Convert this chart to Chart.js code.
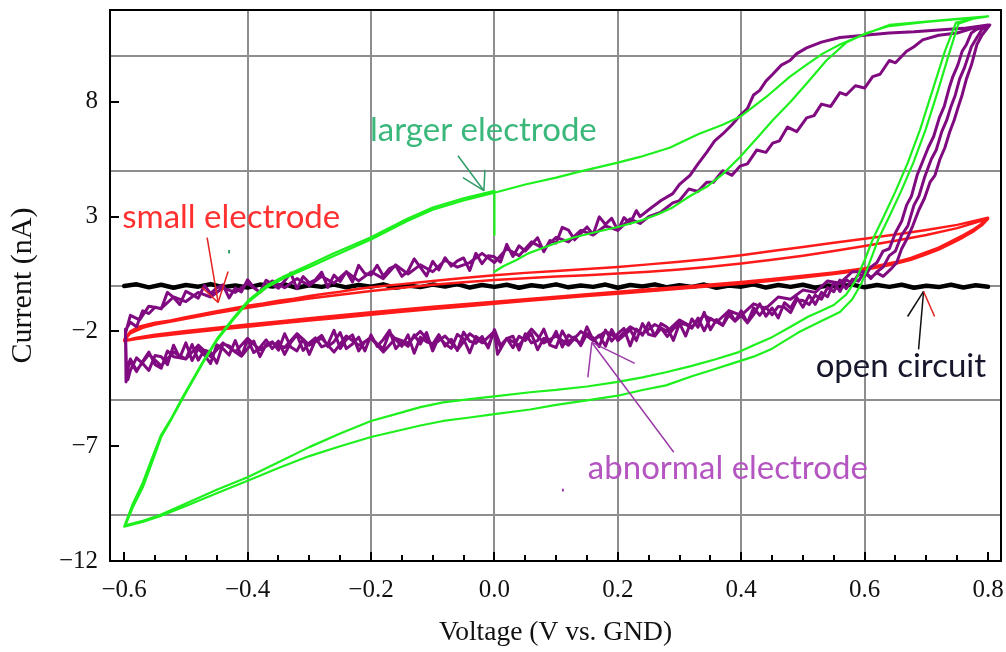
<!DOCTYPE html>
<html><head><meta charset="utf-8">
<style>html,body{margin:0;padding:0;background:#fff;}canvas{display:block;}</style>
<script src="https://cdn.jsdelivr.net/npm/chart.js@4.4.1/dist/chart.umd.min.js"></script>
</head><body>
<canvas id="c" width="1006" height="652"></canvas>
<script>
// ---- axis ticks ----
const xTicks = [-0.6, -0.4, -0.2, 0, 0.2, 0.4, 0.6, 0.8];
const xMinorTicks = [-0.55, -0.5, -0.45, -0.35, -0.3, -0.25, -0.15, -0.1, -0.05, 0.05, 0.1, 0.15, 0.25, 0.3, 0.35, 0.45, 0.5, 0.55, 0.65, 0.7, 0.75];
const yTicks = [8, 3, -2, -7, -12];
const yGridLines = [10, 5, 0, -5, -10];

// ---- series (voltage V, current nA) ----
const openCircuit = [[-0.6,-0.02],[-0.58,0.05],[-0.56,-0.08],[-0.54,0.03],[-0.52,-0.1],[-0.5,0.02],[-0.48,-0.05],[-0.46,0.06],[-0.44,-0.07],[-0.42,0.0],[-0.4,-0.09],[-0.38,0.04],[-0.36,-0.04],[-0.34,0.05],[-0.32,-0.1],[-0.3,0.01],[-0.28,-0.06],[-0.26,0.04],[-0.24,-0.08],[-0.22,0.02],[-0.2,-0.05],[-0.18,0.05],[-0.16,-0.1],[-0.14,0.0],[-0.12,-0.07],[-0.1,0.04],[-0.08,-0.04],[-0.06,0.06],[-0.04,-0.09],[-0.02,0.02],[0,-0.06],[0.02,0.03],[0.04,-0.1],[0.06,0.01],[0.08,-0.05],[0.1,0.05],[0.12,-0.08],[0.14,0.0],[0.16,-0.06],[0.18,0.04],[0.2,-0.1],[0.22,0.02],[0.24,-0.04],[0.26,0.05],[0.28,-0.08],[0.3,0.01],[0.32,-0.06],[0.34,0.04],[0.36,-0.1],[0.38,0.0],[0.4,-0.05],[0.42,0.05],[0.44,-0.09],[0.46,0.02],[0.48,-0.06],[0.5,0.03],[0.52,-0.1],[0.54,0.0],[0.56,-0.05],[0.58,0.04],[0.6,-0.08],[0.62,0.02],[0.64,-0.06],[0.66,0.03],[0.68,-0.1],[0.7,-0.01],[0.72,-0.07],[0.74,0.03],[0.76,-0.09],[0.78,0.01],[0.8,-0.05]];

const smallElectrode = [[-0.6,-2.35],[-0.59,-2.0],[-0.575,-1.78],[-0.55,-1.62],[-0.525,-1.52],[-0.5,-1.38],[-0.475,-1.25],[-0.45,-1.12],[-0.425,-1.0],[-0.4,-0.88],[-0.375,-0.78],[-0.35,-0.66],[-0.325,-0.58],[-0.3,-0.46],[-0.275,-0.36],[-0.25,-0.27],[-0.225,-0.16],[-0.2,-0.08],[-0.15,0.06],[-0.1,0.2],[-0.05,0.33],[0,0.45],[0.05,0.55],[0.1,0.63],[0.15,0.72],[0.2,0.81],[0.25,0.92],[0.3,1.03],[0.35,1.16],[0.4,1.32],[0.45,1.5],[0.5,1.68],[0.55,1.86],[0.6,2.04],[0.65,2.22],[0.7,2.42],[0.75,2.64],[0.8,2.95],
[0.79,2.7],[0.775,2.42],[0.76,2.2],[0.74,1.92],[0.72,1.65],[0.7,1.45],[0.675,1.2],[0.65,1.02],[0.625,0.88],[0.6,0.75],[0.55,0.57],[0.5,0.42],[0.45,0.28],[0.4,0.15],[0.35,0.04],[0.3,-0.06],[0.25,-0.16],[0.2,-0.27],[0.15,-0.38],[0.1,-0.49],[0.05,-0.6],[0,-0.71],[-0.05,-0.82],[-0.1,-0.93],[-0.15,-1.05],[-0.2,-1.17],[-0.25,-1.3],[-0.3,-1.43],[-0.35,-1.57],[-0.4,-1.7],[-0.45,-1.84],[-0.5,-1.98],[-0.55,-2.14],[-0.58,-2.27],[-0.6,-2.4],
[-0.59,-2.08],[-0.57,-1.84],[-0.55,-1.7],[-0.5,-1.45],[-0.45,-1.2],[-0.4,-0.97],[-0.35,-0.76],[-0.3,-0.57],[-0.25,-0.4],[-0.2,-0.24],[-0.15,-0.1],[-0.1,0.03],[-0.05,0.14],[0,0.24],[0.05,0.32],[0.1,0.39],[0.15,0.45],[0.2,0.52],[0.25,0.6],[0.3,0.7],[0.35,0.82],[0.4,0.96],[0.45,1.12],[0.5,1.3],[0.55,1.5],[0.6,1.72],[0.65,1.95],[0.7,2.2],[0.75,2.5],[0.8,2.9],
[0.79,2.62],[0.775,2.33],[0.76,2.1],[0.74,1.82],[0.72,1.56],[0.7,1.36],[0.675,1.12],[0.65,0.95],[0.625,0.8],[0.6,0.68],[0.55,0.5],[0.5,0.35],[0.45,0.21],[0.4,0.08],[0.35,-0.03],[0.3,-0.14],[0.25,-0.25],[0.2,-0.36],[0.15,-0.46],[0.1,-0.57],[0.05,-0.68],[0,-0.8],[-0.05,-0.91],[-0.1,-1.02],[-0.15,-1.14],[-0.2,-1.27],[-0.25,-1.4],[-0.3,-1.53],[-0.35,-1.66],[-0.4,-1.8],[-0.45,-1.93],[-0.5,-2.07],[-0.55,-2.22],[-0.58,-2.33],[-0.6,-2.42]];

const largerElectrode = [[0,0.6],[0.015,0.85],[0.035,1.1],[0.055,1.4],[0.075,1.6],[0.1,1.85],[0.13,2.1],[0.16,2.3],[0.2,2.55],[0.24,2.85],[0.265,3.1],[0.289,3.4],[0.317,3.9],[0.344,4.3],[0.37,4.85],[0.398,5.6],[0.425,6.4],[0.451,7.2],[0.48,8.0],[0.506,8.8],[0.538,9.8],[0.571,10.6],[0.603,11.0],[0.64,11.3],[0.7,11.48],[0.75,11.6],[0.8,11.72],
[0.775,11.62],[0.748,11.45],[0.73,10.2],[0.71,8.5],[0.69,6.8],[0.67,5.35],[0.65,4.1],[0.63,2.95],[0.613,2.0],[0.6,1.1],[0.585,0.2],[0.57,-0.4],[0.55,-0.85],
[0.53,-1.1],[0.509,-1.35],[0.48,-1.8],[0.45,-2.25],[0.42,-2.6],[0.396,-2.9],[0.36,-3.2],[0.32,-3.5],[0.278,-3.78],[0.24,-4.0],[0.2,-4.2],[0.15,-4.4],[0.1,-4.55],[0.058,-4.65],[0,-4.83],[-0.04,-4.95],[-0.083,-5.09],[-0.12,-5.3],[-0.16,-5.6],[-0.2,-5.9],[-0.25,-6.45],[-0.3,-7.04],[-0.35,-7.7],[-0.4,-8.35],[-0.45,-8.9],[-0.5,-9.5],[-0.542,-10.0],[-0.57,-10.25],[-0.598,-10.45],
[-0.585,-9.6],[-0.569,-8.74],[-0.553,-7.57],[-0.54,-6.6],[-0.525,-5.9],[-0.506,-4.96],[-0.49,-4.2],[-0.472,-3.35],[-0.45,-2.4],[-0.423,-1.48],[-0.4,-0.75],[-0.37,-0.1],[-0.342,0.3],[-0.3,0.8],[-0.262,1.26],[-0.2,2.0],[-0.142,2.8],[-0.1,3.3],[-0.05,3.7],[0,4.04],[0.05,4.4],[0.1,4.7],[0.138,4.96],[0.2,5.35],[0.236,5.6],[0.284,6.0],[0.331,6.6],[0.37,7.0],[0.398,7.35],[0.44,8.2],[0.479,9.1],[0.505,9.6],[0.532,10.1],[0.56,10.5],[0.587,10.8],[0.615,11.1],[0.64,11.35],[0.7,11.5],[0.75,11.62],[0.8,11.72],
[0.776,11.62],[0.752,11.4],[0.738,10.2],[0.719,8.5],[0.699,6.8],[0.679,5.35],[0.659,4.1],[0.639,2.95],[0.622,2.0],[0.608,1.0],[0.595,0.1],[0.58,-0.6],[0.56,-1.15],
[0.53,-1.55],[0.493,-2.04],[0.45,-2.75],[0.42,-3.1],[0.391,-3.35],[0.35,-3.7],[0.32,-3.95],[0.278,-4.35],[0.24,-4.55],[0.2,-4.8],[0.15,-5.0],[0.1,-5.2],[0.058,-5.4],[0,-5.6],[-0.04,-5.75],[-0.083,-5.9],[-0.12,-6.1],[-0.16,-6.35],[-0.2,-6.6],[-0.25,-7.0],[-0.3,-7.43],[-0.35,-7.95],[-0.4,-8.5],[-0.45,-9.05],[-0.5,-9.6],[-0.542,-10.05],[-0.57,-10.3],[-0.6,-10.5],
[-0.586,-9.5],[-0.57,-8.6],[-0.554,-7.45],[-0.54,-6.5],[-0.524,-5.8],[-0.505,-4.85],[-0.489,-4.1],[-0.471,-3.25],[-0.449,-2.3],[-0.422,-1.38],[-0.399,-0.65],[-0.369,0.0],[-0.341,0.4],[-0.3,0.9],[-0.262,1.38],[-0.2,2.1],[-0.142,2.9],[-0.1,3.4],[-0.05,3.8],[0,4.12],[0,2.2]];

const abnormalElectrode = [[-0.598,-1.9],[-0.597,-4.2],[-0.594,-3.6],
[-0.59,-3.3],[-0.58,-3.75],[-0.57,-3.3],[-0.56,-2.9],[-0.55,-3.45],[-0.54,-3.6],[-0.53,-2.85],[-0.52,-3.1],[-0.51,-3.15],[-0.5,-2.5],[-0.49,-3.27],[-0.48,-2.75],[-0.47,-3.02],[-0.46,-3.4],[-0.45,-2.58],[-0.44,-2.75],[-0.43,-3.03],[-0.42,-2.4],[-0.41,-3.08],[-0.4,-2.75],[-0.39,-2.42],[-0.38,-3.1],[-0.37,-2.57],[-0.36,-2.45],[-0.35,-2.82],[-0.34,-2.1],[-0.33,-2.68],[-0.32,-2.85],[-0.31,-2.33],[-0.3,-3.0],[-0.29,-2.38],[-0.28,-2.17],[-0.27,-2.66],[-0.26,-2.45],[-0.25,-2.05],[-0.24,-2.75],[-0.23,-2.55],[-0.22,-2.25],[-0.21,-2.85],[-0.2,-2.15],[-0.19,-2.65],[-0.18,-2.35],[-0.17,-1.95],[-0.16,-2.75],[-0.15,-2.45],[-0.14,-2.65],[-0.13,-2.15],[-0.12,-2.55],[-0.11,-2.05],[-0.1,-2.85],[-0.09,-2.24],[-0.08,-2.54],[-0.07,-2.74],[-0.06,-2.13],[-0.05,-2.33],[-0.04,-2.93],[-0.03,-2.22],[-0.02,-2.42],[-0.01,-2.62],[0,-2.02],[0.01,-2.71],[0.02,-2.31],[0.03,-2.21],[0.04,-2.81],[0.05,-2.1],[0.06,-2.5],[0.07,-2.4],[0.08,-1.9],[0.09,-2.6],[0.1,-2.7],[0.11,-1.98],[0.12,-2.46],[0.13,-2.24],[0.14,-2.62],[0.15,-2.1],[0.16,-2.28],[0.17,-2.66],[0.18,-1.94],[0.19,-2.42],[0.2,-2.1],[0.21,-1.87],[0.22,-2.63],[0.23,-1.9],[0.24,-2.16],[0.25,-1.63],[0.26,-2.2],[0.27,-1.86],[0.28,-2.22],[0.29,-1.89],[0.3,-1.65],[0.31,-2.2],[0.32,-1.46],[0.33,-1.82],[0.34,-1.17],[0.35,-1.93],[0.36,-1.48],[0.37,-1.74],[0.38,-1.29],[0.39,-1.55],[0.4,-1.1],[0.41,-1.63],[0.42,-1.27],[0.43,-0.8],[0.44,-1.34],[0.45,-0.98],[0.46,-1.41],[0.47,-0.75],[0.48,-0.98],[0.49,-0.52],[0.5,-0.95],[0.51,-0.43],[0.52,-0.82],[0.53,-0.3],[0.54,-0.49],[0.55,0.13],[0.56,-0.26],[0.57,0.26],[0.58,0.07],[0.59,0.49],
[0.6,0.4],[0.61,0.8],[0.62,1.0],[0.63,1.5],[0.64,1.6],[0.65,2.3],[0.66,2.8],[0.668,3.5],[0.676,3.9],[0.685,4.8],[0.694,5.4],[0.703,6.0],[0.712,6.5],[0.721,7.3],[0.729,7.8],[0.737,8.6],[0.743,9.1],[0.751,9.6],[0.758,10.2],[0.765,10.5],[0.773,11.0],[0.781,11.15],[0.8,11.35],
[0.76,11.2],[0.72,11.13],[0.68,11.05],[0.64,11.0],[0.6,10.9],[0.56,10.8],[0.53,10.6],[0.506,10.35],[0.49,10.1],[0.479,9.8],[0.465,9.6],[0.451,9.2],[0.44,8.9],[0.43,8.5],[0.42,8.3],[0.41,7.7],[0.398,7.4],[0.385,7.0],[0.37,6.6],[0.357,6.3],[0.344,5.8],[0.33,5.3],[0.317,4.8],[0.3,4.4],[0.289,4.0],[0.27,3.7],[0.25,3.3],[0.236,3.0],
[0.23,3.26],[0.22,2.71],[0.21,2.96],[0.2,2.4],[0.19,2.93],[0.18,2.66],[0.17,2.99],[0.16,2.22],[0.15,2.55],[0.14,2.27],[0.13,1.99],[0.12,2.41],[0.11,2.53],[0.1,1.85],[0.09,1.96],[0.08,1.47],[0.07,2.08],[0.06,1.79],[0.05,1.5],[0.04,1.73],[0.03,1.26],[0.02,1.79],[0.01,1.02],[0,1.25],[-0.01,1.3],[-0.02,0.95],[-0.03,1.4],[-0.04,0.65],[-0.05,1.2],[-0.06,1.07],[-0.07,0.84],[-0.08,1.21],[-0.09,0.68],[-0.1,1.05],[-0.11,0.42],[-0.12,0.79],[-0.13,1.16],[-0.14,0.63],[-0.15,0.4],[-0.16,0.87],[-0.17,0.74],[-0.18,0.41],[-0.19,0.88],[-0.2,0.45],[-0.21,0.52],[-0.22,0.88],[-0.23,0.15],[-0.24,0.61],[-0.25,0.18],[-0.26,0.45],[-0.27,-0.08],[-0.28,0.58],[-0.29,0.25],[-0.3,0.12],[-0.31,0.39],[-0.32,-0.14],[-0.33,0.54],[-0.34,0.21],[-0.35,-0.12],[-0.36,0.05],[-0.37,0.23],[-0.38,-0.3],[-0.39,-0.08],[-0.4,0.25],[-0.41,-0.28],[-0.42,-0.11],[-0.43,-0.54],[-0.44,0.03],[-0.45,-0.1],[-0.46,-0.35],[-0.47,0.0],[-0.48,-0.55],[-0.49,-0.4],[-0.5,-0.25],[-0.51,-0.83],[-0.52,-0.52],[-0.53,-0.3],[-0.54,-1.02],[-0.55,-0.95],[-0.56,-1.22],[-0.57,-1.1],[-0.58,-1.8],[-0.59,-1.6],[-0.598,-1.95],
[-0.596,-3.9],[-0.594,-4.1],
[-0.59,-3.7],[-0.58,-3.15],[-0.57,-3.4],[-0.56,-3.7],[-0.55,-3.05],[-0.54,-3.1],[-0.53,-3.45],[-0.52,-2.6],[-0.51,-3.15],[-0.5,-3.2],[-0.49,-2.57],[-0.48,-3.25],[-0.47,-2.82],[-0.46,-2.9],[-0.45,-3.38],[-0.44,-2.55],[-0.43,-2.63],[-0.42,-2.9],[-0.41,-3.08],[-0.4,-2.35],[-0.39,-2.92],[-0.38,-2.7],[-0.37,-2.37],[-0.36,-2.75],[-0.35,-2.42],[-0.34,-3.0],[-0.33,-2.48],[-0.32,-2.15],[-0.31,-2.83],[-0.3,-2.5],[-0.29,-2.28],[-0.28,-2.67],[-0.27,-2.56],[-0.26,-1.95],[-0.25,-2.75],[-0.24,-2.35],[-0.23,-2.15],[-0.22,-2.85],[-0.21,-2.45],[-0.2,-2.25],[-0.19,-2.55],[-0.18,-2.75],[-0.17,-2.05],[-0.16,-2.35],[-0.15,-2.65],[-0.14,-2.15],[-0.13,-2.95],[-0.12,-2.25],[-0.11,-2.45],[-0.1,-2.55],[-0.09,-2.14],[-0.08,-2.64],[-0.07,-2.34],[-0.06,-2.83],[-0.05,-2.03],[-0.04,-2.43],[-0.03,-2.52],[-0.02,-2.22],[-0.01,-2.72],[0,-1.92],[0.01,-2.61],[0.02,-2.31],[0.03,-2.71],[0.04,-2.21],[0.05,-2.4],[0.06,-2.1],[0.07,-2.8],[0.08,-2.3],[0.09,-2.5],[0.1,-2.0],[0.11,-2.68],[0.12,-2.16],[0.13,-2.34],[0.14,-2.52],[0.15,-1.8],[0.16,-2.38],[0.17,-2.16],[0.18,-2.64],[0.19,-1.92],[0.2,-2.4],[0.21,-2.17],[0.22,-1.93],[0.23,-2.4],[0.24,-1.66],[0.25,-2.13],[0.26,-2.2],[0.27,-1.66],[0.28,-1.82],[0.29,-2.39],[0.3,-1.65],[0.31,-1.7],[0.32,-1.86],[0.33,-1.42],[0.34,-1.97],[0.35,-1.43],[0.36,-1.58],[0.37,-1.74],[0.38,-1.09],[0.39,-1.55],[0.4,-1.3],[0.41,-1.63],[0.42,-0.97],[0.43,-1.3],[0.44,-0.94],[0.45,-1.28],[0.46,-0.91],[0.47,-0.95],[0.48,-1.18],[0.49,-0.62],[0.5,-0.65],[0.51,-0.83],[0.52,-0.42],[0.53,-0.6],[0.54,-0.09],[0.55,-0.27],[0.56,0.24],[0.57,-0.14],[0.58,0.27],[0.59,0.19],[0.6,0.6],[0.61,0.35],[0.62,0.55],
[0.63,0.4],[0.642,0.7],[0.652,1.0],[0.66,1.6],[0.668,2.0],[0.678,2.6],[0.688,3.3],[0.697,3.8],[0.706,4.5],[0.714,4.8],[0.722,5.5],[0.73,6.0],[0.738,6.7],[0.745,7.2],[0.752,7.8],[0.758,8.3],[0.765,9.0],[0.773,9.6],[0.782,10.5],[0.79,10.9],[0.803,11.35],
[0.775,11.2],[0.75,11.0],[0.72,10.9],[0.694,10.7],[0.68,10.4],[0.668,10.2],[0.65,9.7],[0.64,9.8],[0.625,9.2],[0.613,9.1],[0.6,8.6],[0.585,8.7],[0.57,8.3],[0.56,8.4],[0.545,7.8],[0.53,7.9],[0.518,7.4],[0.506,7.3],[0.49,6.7],[0.475,6.9],[0.462,6.3],[0.451,6.2],[0.44,5.8],[0.425,5.9],[0.41,5.3],[0.398,5.2],[0.385,4.8],[0.37,5.0],[0.355,4.5],[0.344,4.5],[0.33,4.1],[0.315,4.2],[0.3,3.7],[0.289,3.6],[0.27,3.2],[0.25,3.0],[0.236,2.7],[0.22,2.9],[0.2,2.4],[0.18,2.6],[0.16,2.2],[0.14,2.4],[0.12,1.9],[0.1,2.1],[0.08,1.6],[0.06,1.9],[0.04,1.3],[0.02,1.6],[0,1.0],[-0.02,1.4],[-0.04,1.0],[-0.06,0.8],[-0.08,1.1],[-0.1,0.6],[-0.12,0.9],[-0.14,0.5],[-0.16,0.9],[-0.18,0.3],[-0.2,0.6],[-0.22,0.2],[-0.24,0.6],[-0.26,0.1],[-0.28,0.4],[-0.3,0.0],[-0.32,0.3],[-0.34,-0.1],[-0.36,0.2],[-0.38,-0.3],[-0.4,0.1],[-0.42,-0.3],[-0.44,-0.1],[-0.46,-0.5],[-0.48,-0.3],[-0.5,-0.7],[-0.52,-0.5],[-0.54,-1.0],[-0.56,-0.9],[-0.575,-1.5],[-0.59,-1.3],[-0.598,-2.1],
[-0.597,-3.7],[-0.59,-3.2],[-0.58,-3.7],[-0.56,-3.0],[-0.54,-3.5],[-0.52,-2.9],[-0.5,-3.2],[-0.48,-2.6],[-0.46,-3.1],[-0.44,-2.5],[-0.42,-2.9],[-0.4,-2.3],[-0.38,-2.8],[-0.36,-2.5],[-0.34,-2.7],[-0.32,-2.1],[-0.3,-2.6],[-0.28,-2.3],[-0.26,-2.9],[-0.24,-2.2],[-0.22,-2.6],[-0.2,-2.3],[-0.18,-2.9],[-0.16,-2.3],[-0.14,-2.5],[-0.12,-2.0],[-0.1,-2.6],[-0.08,-2.2],[-0.06,-2.8],[-0.04,-2.1],[-0.02,-2.5],[0,-2.0],[0.005,-3.0],[0.02,-2.3],[0.04,-2.6],[0.06,-1.9],[0.08,-2.5],[0.1,-2.2],[0.12,-2.6],[0.14,-2.0],[0.16,-2.4],[0.18,-2.0],[0.2,-2.3],[0.22,-1.8],[0.24,-2.1],[0.26,-1.7],[0.28,-2.0],[0.3,-1.5],[0.32,-1.8],[0.34,-1.3],[0.36,-1.6],[0.38,-1.1],[0.4,-1.3],[0.42,-0.8],[0.44,-1.0],[0.46,-0.5],[0.48,-0.6],[0.5,-0.2],[0.52,-0.3],[0.54,0.2],[0.56,0.1],[0.58,0.6],[0.6,0.6],
[0.61,0.3],[0.62,0.6],[0.63,0.8],[0.64,1.3],[0.65,1.5],[0.66,2.2],[0.67,2.6],[0.68,3.5],[0.688,3.9],[0.697,4.7],[0.708,5.5],[0.716,5.9],[0.725,6.7],[0.733,7.2],[0.74,7.8],[0.747,8.3],[0.754,9.0],[0.762,9.5],[0.773,10.4],[0.782,10.8],[0.79,11.15],[0.8,11.3]];

// ---- annotations (data coordinates) ----
const labels = [
  {text: 'larger electrode', at: [-0.2016, 6.30], color: '#3ab77a'},
  {text: 'small electrode', at: [-0.6032, 2.52], color: '#ff3030'},
  {text: 'open circuit', at: [0.5206, -4.0], color: '#16162c'},
  {text: 'abnormal electrode', at: [0.1514, -8.43], color: '#b455c2'}
];
const arrowLines = [
  {color: '#2f9a66', pts: [[-0.0591, 5.65], [-0.017, 4.13]]},
  {color: '#2f9a66', pts: [[-0.051, 4.70], [-0.017, 4.13]]},
  {color: '#2f9a66', pts: [[-0.0154, 5.04], [-0.017, 4.13]]},
  {color: '#2f9a66', pts: [[-0.43, 1.55], [-0.43, 1.40]], w: 2},
  {color: '#e52222', pts: [[-0.4656, 2.09], [-0.4478, -0.74]]},
  {color: '#e52222', pts: [[-0.4737, -0.09], [-0.4478, -0.74]]},
  {color: '#e52222', pts: [[-0.4316, 0.61], [-0.4478, -0.74]]},
  {color: '#111111', pts: [[0.6874, -2.78], [0.6955, -0.26]]},
  {color: '#111111', pts: [[0.6696, -1.35], [0.6955, -0.26]]},
  {color: '#e52222', pts: [[0.6955, -0.26], [0.7134, -1.35]]},
  {color: '#9b3aa8', pts: [[0.1514, -4.0], [0.1579, -2.48]]},
  {color: '#9b3aa8', pts: [[0.1579, -2.48], [0.2275, -3.39]]},
  {color: '#9b3aa8', pts: [[0.1579, -2.48], [0.2907, -7.26]]},
  {color: '#9b3aa8', pts: [[0.111, -8.85], [0.111, -8.97]], w: 2}
];

const fmtX = v => (Math.abs(v) < 1e-9 ? 0 : v).toFixed(1).replace('-', '\u2212');
const fmtY = v => String(v).replace('-', '\u2212');
const toXY = arr => arr.map(([x, y]) => ({x, y}));
const mk = (label, arr, color, w) => ({label, data: toXY(arr), showLine: true, borderColor: color, backgroundColor: color, borderWidth: w, pointRadius: 0, tension: 0, borderJoinStyle: 'round', borderCapStyle: 'round'});
const noPad = s => { s.paddingLeft = 0; s.paddingRight = 0; s.paddingTop = 0; s.paddingBottom = 0; };

const decor = {
  id: 'decor',
  afterDraw(chart) {
    const {ctx, chartArea: a, scales} = chart;
    const X = v => scales.x.getPixelForValue(v), Y = v => scales.y.getPixelForValue(v);
    ctx.save();
    ctx.strokeStyle = '#000'; ctx.lineWidth = 2;
    ctx.beginPath();
    xTicks.forEach(v => { const p = Math.round(X(v)); ctx.moveTo(p, a.bottom); ctx.lineTo(p, a.bottom - 9); });
    xMinorTicks.forEach(v => { const p = Math.round(X(v)); ctx.moveTo(p, a.bottom); ctx.lineTo(p, a.bottom - 6); });
    yTicks.forEach(v => { const p = Math.round(Y(v)); ctx.moveTo(a.left, p); ctx.lineTo(a.left + 9, p); });
    ctx.stroke();
    ctx.strokeRect(a.left, a.top, a.right - a.left, a.bottom - a.top);
    arrowLines.forEach(l => {
      ctx.strokeStyle = l.color; ctx.lineWidth = l.w || 1.5;
      ctx.beginPath();
      l.pts.forEach(([v, i], k) => k ? ctx.lineTo(X(v), Y(i)) : ctx.moveTo(X(v), Y(i)));
      ctx.stroke();
    });
    ctx.textBaseline = 'alphabetic'; ctx.textAlign = 'left';
    ctx.font = '33px Lato';
    labels.forEach(t => { ctx.fillStyle = t.color; ctx.fillText(t.text, X(t.at[0]), Y(t.at[1])); });
    ctx.restore();
  }
};

const serif = 'Liberation Serif';
new Chart(document.getElementById('c'), {
  type: 'scatter',
  data: {datasets: [
    mk('larger electrode', largerElectrode, '#1ef01e', 2.2),
    mk('abnormal electrode', abnormalElectrode, '#800a80', 3),
    mk('small electrode', smallElectrode, '#ff1a1a', 2.5),
    mk('open circuit', openCircuit, '#000000', 4.5)
  ]},
  options: {
    responsive: false, animation: false, devicePixelRatio: 1,
    layout: {padding: {top: 10, right: 5, bottom: 0, left: 0}},
    plugins: {legend: {display: false}, tooltip: {enabled: false}},
    scales: {
      x: {
        type: 'linear', position: 'bottom', min: -0.623, max: 0.821,
        afterBuildTicks: s => { s.ticks = xTicks.map(v => ({value: v})); },
        afterFit: s => { s.height = 91; noPad(s); },
        ticks: {autoSkip: false, maxRotation: 0, padding: 14, color: '#111', font: {family: serif, size: 25}, callback: v => fmtX(v)},
        grid: {drawTicks: false, lineWidth: 2, color: c => (c.tick && (c.tick.value < -0.59 || c.tick.value > 0.79)) ? 'rgba(0,0,0,0)' : '#8e8e8e'},
        border: {display: false},
        title: {display: true, text: 'Voltage (V vs. GND)', color: '#111', font: {family: serif, size: 27.5}, padding: {top: 0, bottom: 3}}
      },
      y: {
        type: 'linear', position: 'left', min: -12, max: 12,
        afterBuildTicks: s => { s.ticks = yTicks.map(v => ({value: v})); },
        afterFit: s => { s.width = 110; noPad(s); },
        ticks: {autoSkip: false, padding: 12, color: '#111', font: {family: serif, size: 25}, callback: v => fmtY(v)},
        grid: {display: false, drawTicks: false},
        border: {display: false},
        title: {display: true, text: 'Current (nA)', color: '#111', font: {family: serif, size: 30}, padding: {top: 5, bottom: 0}}
      },
      yGrid: {
        type: 'linear', position: 'right', min: -12, max: 12,
        afterBuildTicks: s => { s.ticks = yGridLines.map(v => ({value: v})); },
        afterFit: s => { s.width = 0; noPad(s); },
        ticks: {display: false},
        grid: {drawTicks: false, lineWidth: 2, color: '#8e8e8e'},
        border: {display: false}
      }
    }
  },
  plugins: [decor]
});
</script>
</body></html>
